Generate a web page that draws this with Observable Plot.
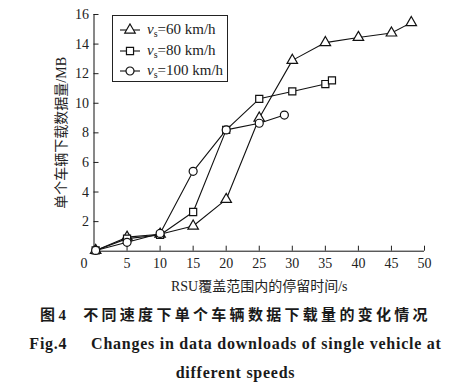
<!DOCTYPE html>
<html><head><meta charset="utf-8">
<script src="https://cdn.jsdelivr.net/npm/d3@7"></script>
<script src="https://cdn.jsdelivr.net/npm/@observablehq/plot@0.6"></script>
<style>
body{margin:0;background:#fff;}
#wrap{position:relative;width:471px;}
.legend{position:absolute;left:112px;top:15px;width:116px;height:67px;border:1px solid #222;box-sizing:border-box;background:#fff;font-family:"Liberation Serif",serif;font-size:15px;color:#222;}
.row{position:absolute;left:6px;height:20px;display:flex;align-items:center;white-space:nowrap;}
.row svg{margin-right:6px;}
.row sub{font-size:10px;vertical-align:-3px;}
.cap{text-align:center;color:#1a1a1a;}
.cap1{font-family:"Noto Sans CJK SC",sans-serif;font-weight:bold;font-size:15px;letter-spacing:3.3px;line-height:28px;}
.cap1 .n{font-family:"Liberation Serif",serif;}
.cap2{font-family:"Liberation Serif",serif;font-weight:bold;font-size:16px;letter-spacing:0.75px;line-height:29px;}
</style>
</head><body>
<div id="wrap"></div>
<script>
// data
const time60 = [0.25, 5, 10, 15, 20, 25, 30, 35, 40, 45, 48];
const data60 = [0.05, 0.95, 1.15, 1.7, 3.5, 9.0, 12.9, 14.1, 14.45, 14.75, 15.45];
const time80 = [0.25, 5, 10, 15, 20, 25, 30, 35, 36];
const data80 = [0.05, 0.85, 1.1, 2.65, 8.2, 10.3, 10.8, 11.3, 11.55];
const time100 = [0.25, 5, 10, 15, 20, 25, 28.8];
const data100 = [0.05, 0.6, 1.2, 5.4, 8.2, 8.65, 9.2];
const speeds = ["60", "80", "100"];
const xTicks = [0, 5, 10, 15, 20, 25, 30, 35, 40, 45, 50];
const yTicks = [2, 4, 6, 8, 10, 12, 14, 16];
const xLabel = "RSU覆盖范围内的停留时间/s";
const yLabel = "单个车辆下载数据量/MB";
const caption1a = "图";
const caption1n = "4";
const caption1b = "不同速度下单个车辆数据下载量的变化情况";
const caption2 = "Fig.4\u00a0\u00a0\u00a0\u00a0 Changes in data downloads of single vehicle at";
const caption3 = "different speeds";

const series = [
  {speed: speeds[0], time: time60, data: data60, symbol: "triangle", r: 3.9},
  {speed: speeds[1], time: time80, data: data80, symbol: "square", r: 4.0},
  {speed: speeds[2], time: time100, data: data100, symbol: "circle", r: 4.0}
];
const rows = series.flatMap(s => s.time.map((t, i) => ({speed: s.speed, t, v: s.data[i]})));

const marks = [
  Plot.axisX({ticks: xTicks, tickSize: -5, tickFormat: () => "", label: null}),
  Plot.axisX({ticks: xTicks.filter(d => d > 0), tickSize: 0, tickPadding: 7, label: xLabel, labelAnchor: "center", labelOffset: 40, labelArrow: "none"}),
  Plot.axisX({ticks: [0], tickSize: 0, tickPadding: 7, dx: -10, label: null}),
  Plot.axisY({ticks: yTicks, tickSize: -5, tickFormat: () => "", label: null}),
  Plot.axisY({ticks: yTicks, tickSize: 0, tickPadding: 5, label: yLabel, labelAnchor: "center", labelOffset: 38, labelArrow: "none"}),
  Plot.ruleX([0], {stroke: "#111"}),
  Plot.ruleY([0], {stroke: "#111"})
];
for (const s of series) {
  const d = rows.filter(r => r.speed === s.speed);
  marks.push(Plot.line(d, {x: "t", y: "v", stroke: "#111", strokeWidth: 1.1}));
}
for (const s of series) {
  const d = rows.filter(r => r.speed === s.speed);
  marks.push(Plot.dot(d, {x: "t", y: "v", symbol: s.symbol, r: s.r, fill: "white", stroke: "#111", strokeWidth: 1.2}));
}

const chart = Plot.plot({
  width: 471, height: 300,
  marginLeft: 93.5, marginRight: 47, marginTop: 14, marginBottom: 49.3,
  x: {domain: [0, 50]},
  y: {domain: [0, 16]},
  style: {fontFamily: "'Liberation Serif', 'Noto Sans CJK SC', serif", fontSize: "14px", color: "#222", background: "white"},
  marks
});
const wrap = document.getElementById("wrap");
wrap.appendChild(chart);

// legend
const leg = document.createElement("div");
leg.className = "legend";
series.forEach((s, i) => {
  const row = document.createElement("div");
  row.className = "row";
  row.style.top = (4 + i * 20.5) + "px";
  const sym = {triangle: d3.symbolTriangle, square: d3.symbolSquare, circle: d3.symbolCircle}[s.symbol];
  const path = d3.symbol(sym, Math.PI * s.r * s.r)();
  row.innerHTML = `<svg width="22" height="14"><line x1="1" x2="21" y1="7" y2="7" stroke="#111" stroke-width="1.1"/><path d="${path}" transform="translate(11,7)" fill="white" stroke="#111" stroke-width="1.2"/></svg><span><i>v</i><sub>s</sub>=${s.speed} km/h</span>`;
  leg.appendChild(row);
});
wrap.appendChild(leg);

const c1 = document.createElement("div");
c1.className = "cap cap1";
c1.innerHTML = `${caption1a}<span class="n">${caption1n}</span><span style="display:inline-block;width:14px"></span>${caption1b}`;
document.body.appendChild(c1);
const c2 = document.createElement("div");
c2.className = "cap cap2";
c2.textContent = caption2;
document.body.appendChild(c2);
const c3 = document.createElement("div");
c3.className = "cap cap2";
c3.textContent = caption3;
document.body.appendChild(c3);
</script>
</body></html>
